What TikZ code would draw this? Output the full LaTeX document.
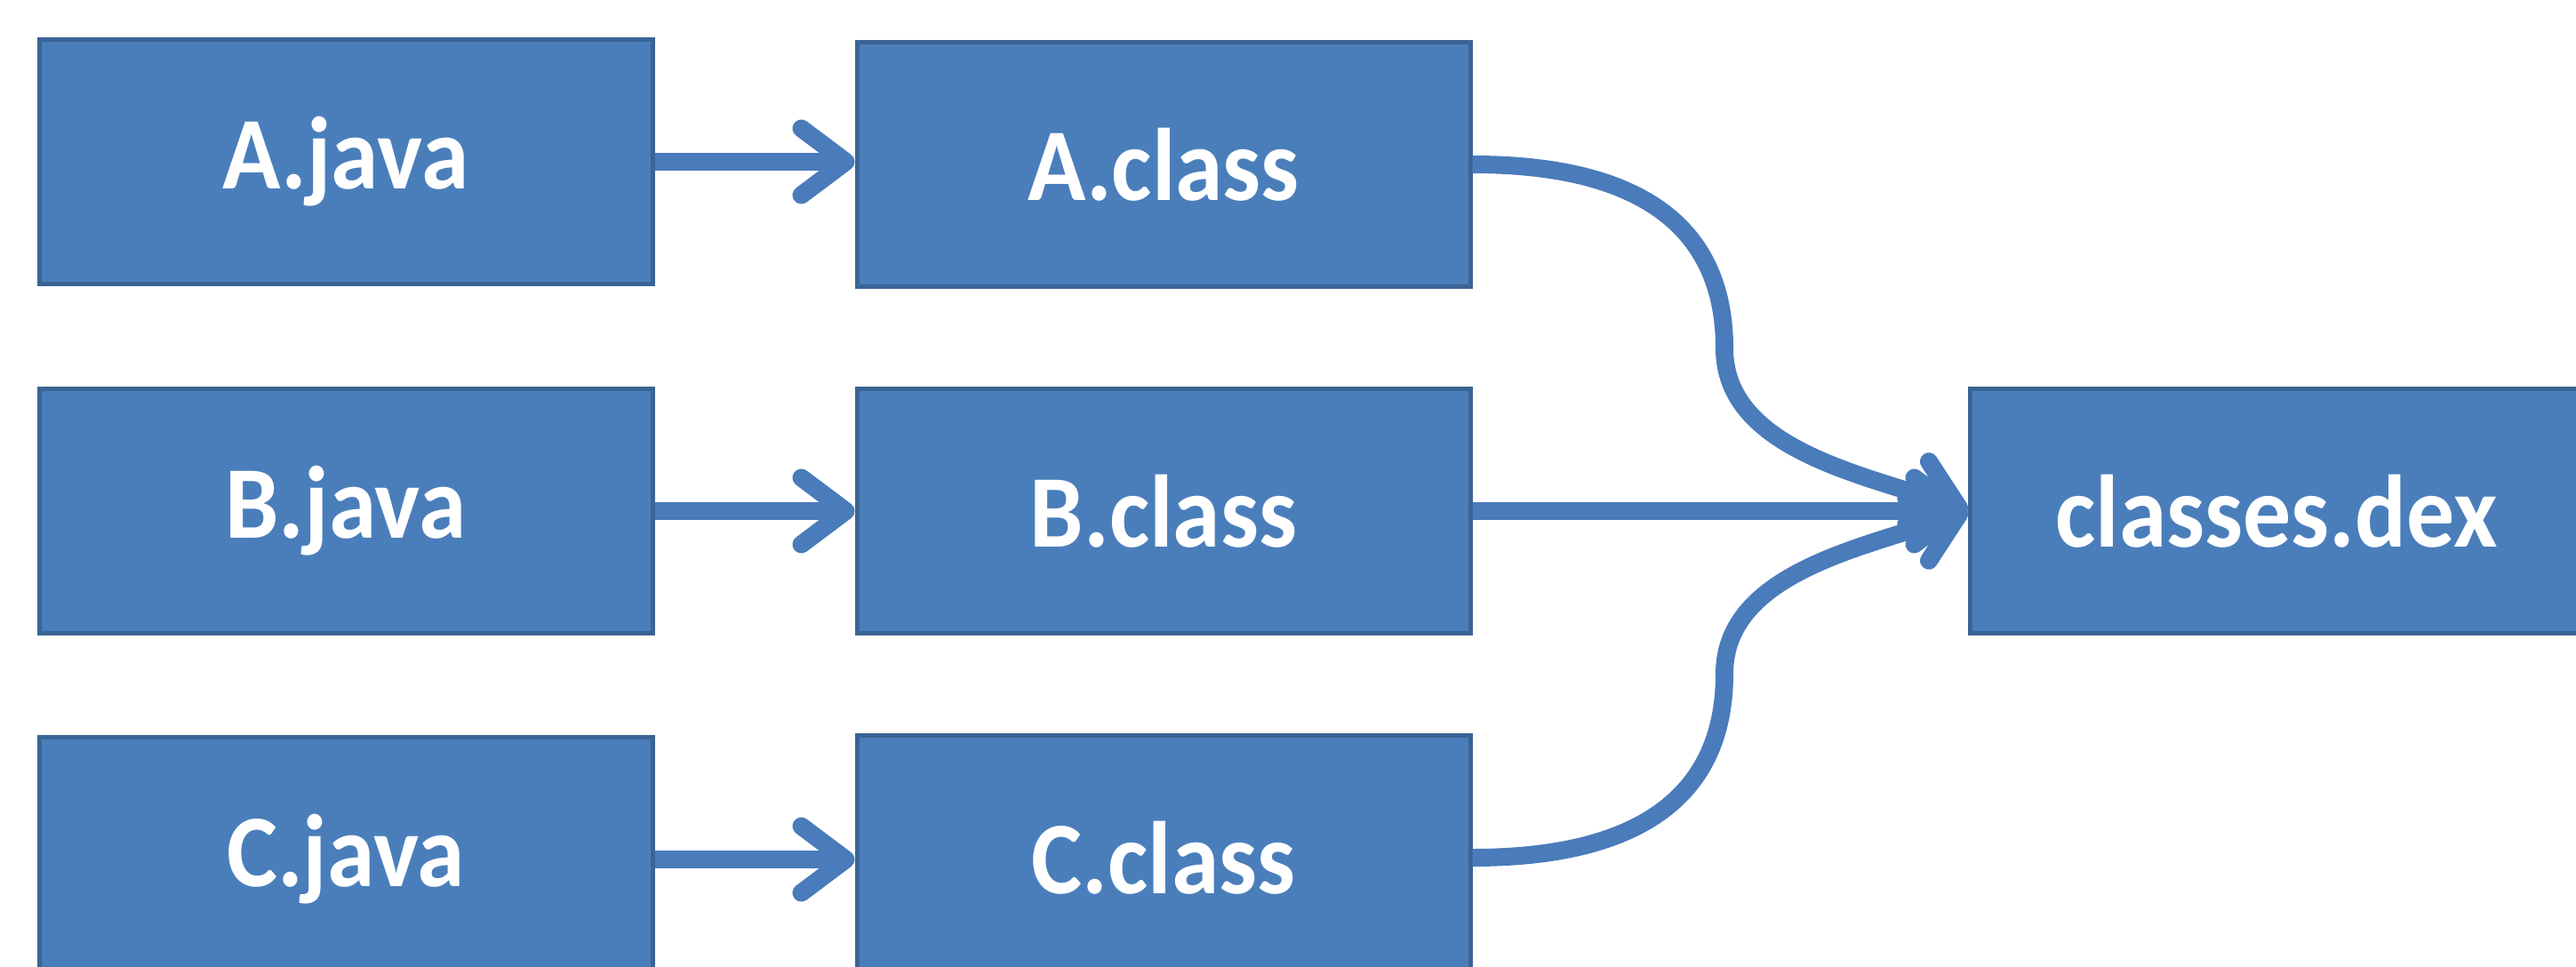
\documentclass[tikz,border=0pt]{standalone}
\usepackage{fontspec}
\setmainfont{Carlito}[FakeStretch=0.93]
\usetikzlibrary{arrows.meta}

\definecolor{boxblue}{HTML}{4A7EBB}
\definecolor{boxedge}{HTML}{3A6494}
\definecolor{flowblue}{HTML}{4A7BBA}

\begin{document}
\begin{tikzpicture}[>=Stealth,
  file/.style={draw=boxedge,line width=0.05cm,fill=boxblue,text=white,
    minimum width=6.9cm,minimum height=2.75cm,inner sep=0pt,
    font=\fontsize{33}{40}\selectfont\bfseries},
  flow/.style={draw=flowblue,line width=0.2cm,
    -{Straight Barb[length=0.5cm,width=0.75cm,line width=0pt 1,round]}}]

\useasboundingbox (0,0) rectangle (28.98,10.87);

% ---------------- SOURCE FILES ----------------
\node[file] (ajava) at (3.89,9.05) {A.java};
\node[file] (bjava) at (3.89,5.12) {B.java};
\node[file] (cjava) at (3.89,1.20) {C.java};

% ---------------- CLASS FILES ----------------
\node[file] (aclass) at (13.09,9.02) {A.class};
\node[file] (bclass) at (13.09,5.12) {B.class};
\node[file] (cclass) at (13.09,1.22) {C.class};

% ---------------- DEX FILE ----------------
\node[file] (dex) at (25.61,5.12) {classes.dex};

% bends of the merging curves
\coordinate (abend) at (19.40,6.95);
\coordinate (cbend) at (19.40,3.29);

% compile step
\draw[flow] (ajava.east) -- (aclass.west |- ajava.east);
\draw[flow] (bjava) -- (bclass);
\draw[flow] (cjava.east) -- (cclass.west |- cjava.east);

% merge into dex
\draw[flow] (aclass.east) to[out=0,in=90,looseness=1.15] (abend)
  to[out=-90,in=160,looseness=0.9] (dex.west);
\draw[flow] (bclass) -- (dex);
\draw[flow] (cclass.east) to[out=0,in=-90,looseness=1.15] (cbend)
  to[out=90,in=200,looseness=0.9] (dex.west);

\end{tikzpicture}
\end{document}
